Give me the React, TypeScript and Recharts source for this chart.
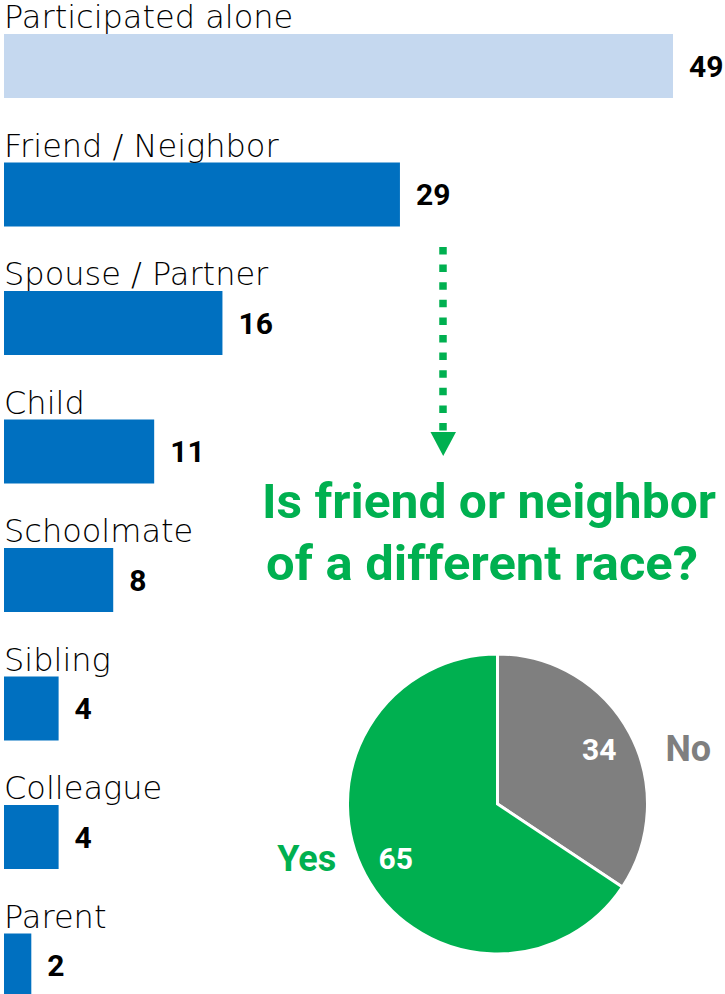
import { BarChart, Bar, XAxis, YAxis, Cell, LabelList, PieChart, Pie } from 'recharts';

const categories = [
  'Participated alone',
  'Friend / Neighbor',
  'Spouse / Partner',
  'Child',
  'Schoolmate',
  'Sibling',
  'Colleague',
  'Parent',
];
const counts = [49, 29, 16, 11, 8, 4, 4, 2];

const answers = ['No', 'Yes'];
const answerCounts = [34, 65];

const titleLines = ['Is friend or neighbor', 'of a different race?'];

const GREEN = '#00B050';
const GRAY = '#7F7F7F';
const BLUE = '#0070C0';
const LIGHT_BLUE = '#C5D8EF';
const RADIAN = Math.PI / 180;

const barData = categories.map((name, i) => ({ name, value: counts[i] }));
const pieData = answers.map((name, i) => ({ name, value: answerCounts[i] }));
const pieColors = [GRAY, GREEN];

const NameLabel = (props: any) => {
  const { x, y, value } = props;
  return (
    <text
      x={x}
      y={y - 6}
      fill="#000"
      fontSize={32}
      fontWeight={300}
      fontFamily="DejaVu Sans"
    >
      {value}
    </text>
  );
};

const renderPieLabel = (props: any) => {
  const { cx, cy, midAngle, outerRadius, index, value, name } = props;
  const r = outerRadius * 0.77;
  const cos = Math.cos(-midAngle * RADIAN);
  const x = cx + r * cos;
  const y = cy + r * Math.sin(-midAngle * RADIAN);
  const side = cos >= 0 ? 1 : -1;
  return (
    <g>
      <text
        x={x}
        y={y}
        fill="#fff"
        textAnchor="middle"
        dominantBaseline="central"
        fontSize={30}
        fontWeight="bold"
        fontFamily="Roboto"
      >
        {value}
      </text>
      <text
        x={x + side * 89}
        y={y}
        fill={pieColors[index]}
        textAnchor="middle"
        dominantBaseline="central"
        fontSize={36}
        fontWeight="bold"
        fontFamily="Roboto"
      >
        {name}
      </text>
    </g>
  );
};

export default function App() {
  return (
    <div
      style={{
        position: 'absolute',
        left: 0,
        top: 0,
        width: 725,
        height: 994,
        overflow: 'hidden',
        background: '#fff',
      }}
    >
      <div style={{ position: 'absolute', left: 0, top: 0 }}>
        <BarChart
          width={725}
          height={1030}
          data={barData}
          layout="vertical"
          margin={{ top: 2, right: 52, left: 4, bottom: 0 }}
          barSize={64}
        >
          <XAxis type="number" domain={[0, 49]} hide />
          <YAxis type="category" dataKey="name" hide />
          <Bar dataKey="value" isAnimationActive={false}>
            {barData.map((d, i) => (
              <Cell key={d.name} fill={i === 0 ? LIGHT_BLUE : BLUE} />
            ))}
            <LabelList dataKey="name" content={NameLabel} />
            <LabelList
              dataKey="value"
              position="right"
              offset={16}
              fill="#000"
              fontSize={30}
              fontWeight="bold"
              fontFamily="Roboto"
            />
          </Bar>
        </BarChart>
      </div>

      <div style={{ position: 'absolute', left: 0, top: 0 }}>
        <PieChart width={725} height={994} margin={{ top: 0, right: 0, bottom: 0, left: 0 }}>
          <Pie
            data={pieData}
            dataKey="value"
            nameKey="name"
            cx={497.5}
            cy={804}
            outerRadius={150}
            startAngle={90}
            endAngle={-270}
            stroke="#fff"
            strokeWidth={3}
            labelLine={false}
            label={renderPieLabel}
            isAnimationActive={false}
          >
            {pieData.map((d, i) => (
              <Cell key={d.name} fill={pieColors[i]} />
            ))}
          </Pie>
        </PieChart>
      </div>

      <svg
        width={725}
        height={994}
        style={{ position: 'absolute', left: 0, top: 0, pointerEvents: 'none' }}
      >
        {/* dotted arrow from friend bar down to the question */}
        <line
          x1={443}
          y1={247}
          x2={443}
          y2={431}
          stroke={GREEN}
          strokeWidth={7.5}
          strokeDasharray="7.5 10.1"
        />
        <polygon points="430.5,432 456,432 443.2,456" fill={GREEN} />
        <text
          x={262}
          y={518}
          fill={GREEN}
          fontSize={48}
          fontWeight="bold"
          fontFamily="Roboto"
          textLength={454}
          lengthAdjust="spacingAndGlyphs"
        >
          {titleLines[0]}
        </text>
        <text
          x={266}
          y={580}
          fill={GREEN}
          fontSize={48}
          fontWeight="bold"
          fontFamily="Roboto"
          textLength={432}
          lengthAdjust="spacingAndGlyphs"
        >
          {titleLines[1]}
        </text>
      </svg>
    </div>
  );
}
